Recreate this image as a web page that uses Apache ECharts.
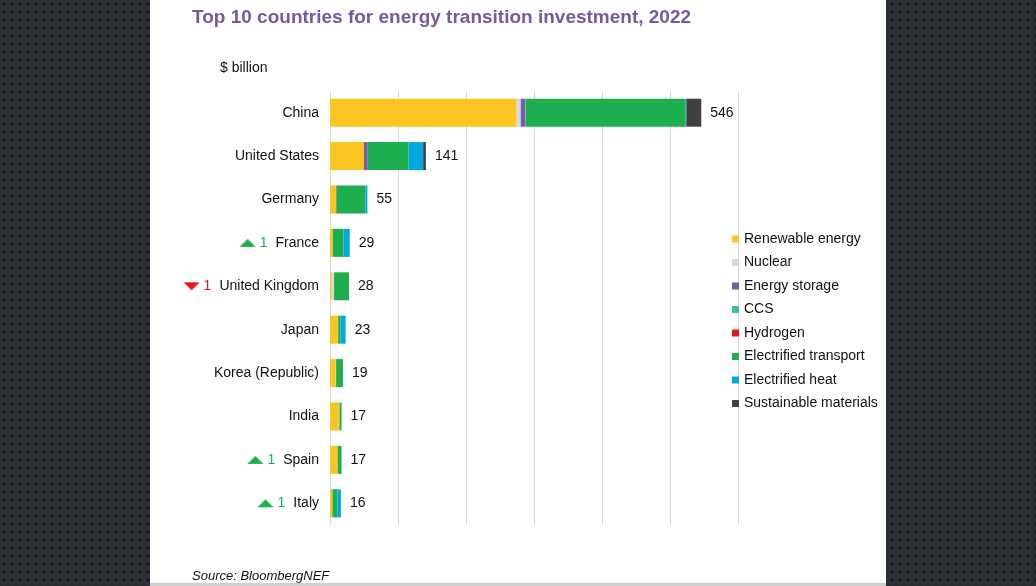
<!DOCTYPE html>
<html>
<head>
<meta charset="utf-8">
<script src="https://cdn.jsdelivr.net/npm/echarts@6/dist/echarts.min.js"></script>
<style>
  html, body { margin:0; padding:0; width:1036px; height:586px; overflow:hidden; }
  body {
    background-color:#2d3035;
    background-image:
      radial-gradient(circle, #1b1d21 1.6px, transparent 2.2px),
      radial-gradient(circle, #25282c 1.2px, transparent 1.8px);
    background-size:8px 8px, 8px 8px;
    background-position:0 0, 4px 4px;
  }
  #panel { position:absolute; left:150px; top:0; width:736px; height:583px; background:#fff; border-bottom:3px solid #cfcfcf; }
  #chart { position:absolute; left:0; top:0; width:1036px; height:586px; }
</style>
</head>
<body>
<div id="panel"></div>
<div id="chart"></div>
<script>
// ---- data ----
const categories = ['China','United States','Germany','France','United Kingdom','Japan','Korea (Republic)','India','Spain','Italy'];
const totals = [546, 141, 55, 29, 28, 23, 19, 17, 17, 16];
const rankChange = [0, 0, 0, 1, -1, 0, 0, 0, 1, 1];
const renewable   = [274.5, 50, 9, 4, 2.5, 12, 8.5, 13.5, 11.5, 3.5];
const nuclear     = [6, 0, 0, 0, 3.5, 0, 0.5, 0.5, 0, 0];
const storage     = [6.5, 5.5, 1, 0, 0, 0, 0, 0, 0, 0];
const ccs         = [1, 0, 0, 0, 0, 0, 0, 0, 0, 0];
const hydrogen    = [0, 0, 0, 0, 0, 0, 0, 0, 0, 0];
const transport   = [235, 60, 42, 16, 22, 3.5, 10, 3, 5.5, 7.5];
const heat        = [1, 21.5, 3, 9, 0, 7.5, 0, 0, 0, 5];
const sustainable = [22, 4, 0, 0, 0, 0, 0, 0, 0, 0];
const xTicks = [0, 100, 200, 300, 400, 500, 600];

const seriesDefs = [
  ['Renewable energy', renewable, '#FDC521'],
  ['Nuclear', nuclear, '#D9D9D9'],
  ['Energy storage', storage, '#7B5AA6'],
  ['CCS', ccs, '#3DBDA7'],
  ['Hydrogen', hydrogen, '#E8141B'],
  ['Electrified transport', transport, '#1DAF4E'],
  ['Electrified heat', heat, '#00A9E0'],
  ['Sustainable materials', sustainable, '#404040']
];

function triCanvas(up, color) {
  const c = document.createElement('canvas');
  c.width = 16; c.height = 8;
  const g = c.getContext('2d');
  g.fillStyle = color;
  g.beginPath();
  if (up) { g.moveTo(0, 8); g.lineTo(16, 8); g.lineTo(8, 0); }
  else { g.moveTo(0, 0); g.lineTo(16, 0); g.lineTo(8, 8); }
  g.closePath(); g.fill();
  return c;
}
const GREEN = '#1DAF4E', RED = '#E8141B';
const upImg = triCanvas(true, GREEN), downImg = triCanvas(false, RED);

const chart = echarts.init(document.getElementById('chart'), null, {renderer: 'canvas'});
const FONT = 'Liberation Sans, Arial, sans-serif';
const TXT = '#111111';

const series = seriesDefs.map(([name, data, color]) => ({
  name, type: 'bar', stack: 'total', data, barWidth: 28,
  itemStyle: { color }, emphasis: { disabled: true }
}));
series.push({
  name: 'totals', type: 'scatter', symbolSize: 0, silent: true,
  itemStyle: { opacity: 1 },
  data: totals.map((t, i) => [t, categories[i]]),
  label: { show: true, position: 'right', distance: 9, formatter: p => String(totals[p.dataIndex]),
           fontSize: 14, color: TXT, opacity: 1, fontFamily: FONT },
  z: 10
});

chart.setOption({
  backgroundColor: 'transparent',
  animation: false,
  textStyle: { fontFamily: FONT },
  title: {
    text: 'Top 10 countries for energy transition investment, 2022',
    left: 192, top: 8, padding: 0,
    textStyle: { fontSize: 19, fontWeight: 'bold', color: '#7A56A3', fontFamily: FONT }
  },
  graphic: [
    { type: 'text', left: 220, top: 61, style: { text: '$ billion', fill: TXT, font: '14px ' + FONT } },
    { type: 'text', left: 192, top: 570, style: { text: 'Source: BloombergNEF', fill: TXT, font: 'italic 13px ' + FONT } }
  ],
  legend: {
    orient: 'vertical', left: 732, top: 232,
    icon: 'rect', itemWidth: 7, itemHeight: 7, itemGap: 9.5, padding: 0,
    data: seriesDefs.map(s => s[0]),
    textStyle: { fontSize: 14, color: TXT, lineHeight: 14, fontFamily: FONT },
    selectedMode: false
  },
  grid: { left: 330, top: 91, width: 408, height: 434, containLabel: false },
  xAxis: {
    type: 'value', min: 0, max: 600, interval: 100,
    axisLabel: { show: false }, axisTick: { show: false }, axisLine: { show: false },
    splitLine: { show: true, lineStyle: { color: '#d9d9d9', width: 1 } }
  },
  yAxis: {
    type: 'category', data: categories, inverse: true,
    axisLine: { show: false }, axisTick: { show: false },
    axisLabel: {
      margin: 11, fontSize: 14, color: TXT, fontFamily: FONT,
      formatter: (v, i) => {
        const r = rankChange[i];
        if (r > 0) return '{up|}{gn|' + r + '}' + v;
        if (r < 0) return '{dn|}{rn|' + (-r) + '}' + v;
        return v;
      },
      rich: {
        up: { width: 16, height: 8, backgroundColor: { image: upImg }, verticalAlign: 'middle' },
        dn: { width: 16, height: 8, backgroundColor: { image: downImg }, verticalAlign: 'middle' },
        gn: { color: GREEN, fontSize: 14, padding: [0, 8, 0, 4], fontFamily: FONT },
        rn: { color: RED, fontSize: 14, padding: [0, 8, 0, 4], fontFamily: FONT }
      }
    }
  },
  series
});
</script>
</body>
</html>
